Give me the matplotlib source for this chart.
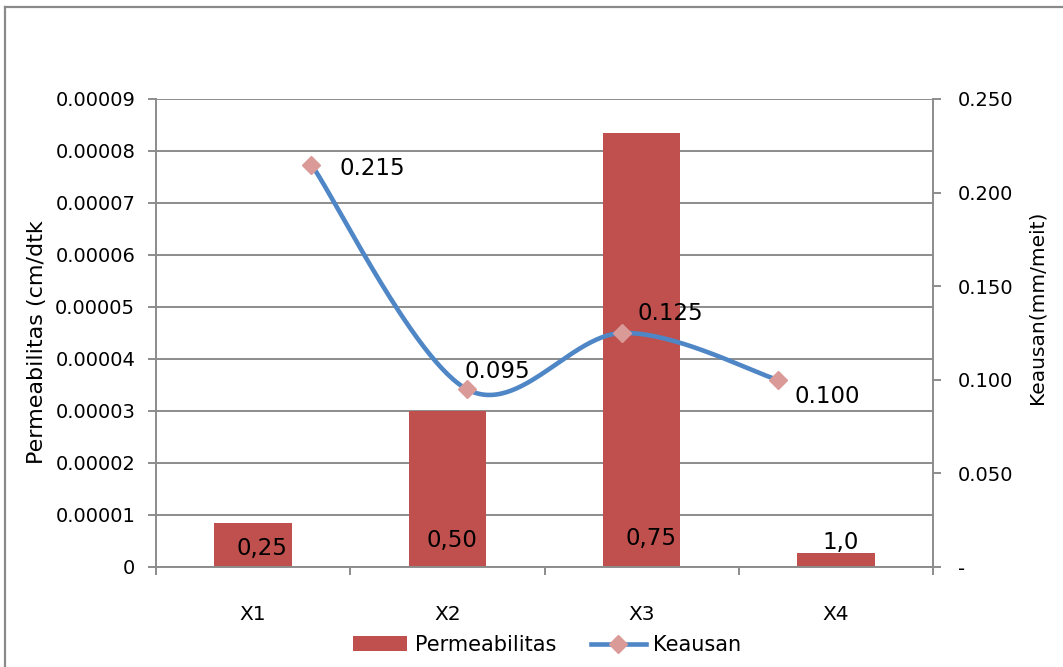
import numpy as np
import matplotlib
matplotlib.use("Agg")
import matplotlib.pyplot as plt
from matplotlib.patches import Patch
from matplotlib.lines import Line2D

plt.rcParams['font.family'] = ['DejaVu Sans']

# ---------------- data ----------------
categories = ["X1", "X2", "X3", "X4"]
permeabilitas = [0.0000085, 0.0000300, 0.0000835, 0.0000027]
bar_labels = ["0,25", "0,50", "0,75", "1,0"]
keausan = [0.215, 0.095, 0.125, 0.100]
keausan_labels = ["0.215", "0.095", "0.125", "0.100"]
left_ticks = [0, 0.00001, 0.00002, 0.00003, 0.00004, 0.00005, 0.00006, 0.00007, 0.00008, 0.00009]
left_tick_labels = ["0", "0.00001", "0.00002", "0.00003", "0.00004", "0.00005",
                    "0.00006", "0.00007", "0.00008", "0.00009"]
right_ticks = [0, 0.05, 0.10, 0.15, 0.20, 0.25]
right_tick_labels = ["-", "0.050", "0.100", "0.150", "0.200", "0.250"]

BAR_COLOR = "#C0504D"
LINE_COLOR = "#4F86C6"
MARKER_COLOR = "#D99A98"
GRID = "#8c8c8c"
SPINE = "#8c8c8c"

W, H = 1063, 667
fig = plt.figure(figsize=(W / 100, H / 100), dpi=100)
rect = [156 / W, 1 - 567 / H, (933 - 156) / W, (567 - 99) / H]

# ---------------- bar axis ----------------
ax = fig.add_axes(rect)
x = np.arange(len(categories))
bars = ax.bar(x, permeabilitas, width=0.40, color=BAR_COLOR, zorder=2)
ax.set_xlim(-0.5, len(categories) - 0.5)
ax.set_ylim(0, 0.00009)
ax.set_yticks(left_ticks)
ax.set_yticklabels(left_tick_labels, fontsize=14)
ax.yaxis.grid(True, color=GRID, lw=1.4)
ax.set_axisbelow(True)
ax.tick_params(axis='y', length=6, width=1.4, color=SPINE, pad=9)
ax.set_xticks(x)
ax.set_xticklabels(categories, fontsize=14.5)
ax.tick_params(axis='x', which='major', length=0, pad=27)
ax.set_xticks(np.arange(-0.5, len(categories)), minor=True)
ax.tick_params(axis='x', which='minor', length=6, width=1.4, color=SPINE, direction='out')
for s in ["top", "right"]:
    ax.spines[s].set_visible(False)
for s in ["left", "bottom"]:
    ax.spines[s].set_color(SPINE)
    ax.spines[s].set_linewidth(1.4)

ax.text(-0.153, 0.48, "Permeabilitas (cm/dtk", rotation=90, fontsize=16,
        transform=ax.transAxes, ha='center', va='center')

bar_offsets = [(9, 18), (5, 26), (9, 29), (5, 24)]
for i, (lab, off) in enumerate(zip(bar_labels, bar_offsets)):
    ax.annotate(lab, xy=(x[i], 0), xytext=off, textcoords='offset pixels',
                ha='center', va='center', fontsize=16.5, zorder=5)

# ---------------- line axis ----------------
ax2 = fig.add_axes(rect, facecolor='none')
lx = np.arange(1, len(keausan) + 1)
ax2.set_xlim(0, len(keausan) + 1)
ax2.set_ylim(0, 0.25)

# Excel-like smoothed curve (Catmull-Rom -> cubic Bezier)
P = np.column_stack([lx, keausan]).astype(float)
n = len(P)
curve = []
tt = np.linspace(0, 1, 60)
for i in range(n - 1):
    p0 = P[max(i - 1, 0)]
    p1 = P[i]
    p2 = P[i + 1]
    p3 = P[min(i + 2, n - 1)]
    c1 = p1 + (p2 - p0) / 6.0
    c2 = p2 - (p3 - p1) / 6.0
    seg = ((1 - tt) ** 3)[:, None] * p1 + (3 * (1 - tt) ** 2 * tt)[:, None] * c1 \
        + (3 * (1 - tt) * tt ** 2)[:, None] * c2 + (tt ** 3)[:, None] * p2
    curve.append(seg)
curve = np.vstack(curve)
ax2.plot(curve[:, 0], curve[:, 1], color=LINE_COLOR, lw=3.3, solid_capstyle='round', zorder=3)
ax2.plot(lx, keausan, linestyle='none', marker='D', markersize=9,
         color=MARKER_COLOR, zorder=4)

line_offsets = [(61, -4), (31, 18), (48, 20), (50, -17)]
for i, (lab, off) in enumerate(zip(keausan_labels, line_offsets)):
    ax2.annotate(lab, xy=(lx[i], keausan[i]), xytext=off, textcoords='offset pixels',
                 ha='center', va='center', fontsize=16.5, zorder=5)

ax2.set_xticks([])
ax2.yaxis.tick_right()
ax2.set_yticks(right_ticks)
ax2.set_yticklabels(right_tick_labels, fontsize=14)
ax2.tick_params(axis='y', length=6, width=1.4, color=SPINE, pad=12)
for s in ["top", "left", "bottom"]:
    ax2.spines[s].set_visible(False)
ax2.spines["right"].set_color(SPINE)
ax2.spines["right"].set_linewidth(1.4)
ax2.text(1.134, 0.555, "Keausan(mm/meit)", rotation=90, fontsize=14.5,
         transform=ax2.transAxes, ha='center', va='center')

# ---------------- legend ----------------
handles = [Patch(facecolor=BAR_COLOR, edgecolor='none'),
           Line2D([0], [0], color=LINE_COLOR, lw=3.3, marker='D', markersize=9,
                  markerfacecolor=MARKER_COLOR, markeredgecolor=MARKER_COLOR)]
fig.legend(handles, ["Permeabilitas", "Keausan"], loc='center',
           bbox_to_anchor=(547 / W, 1 - 645 / H), ncol=2, frameon=False,
           fontsize=15, handlelength=2.6, handleheight=0.75, handletextpad=0.35,
           columnspacing=1.7, borderaxespad=0, borderpad=0)

# ---------------- outer frame ----------------
fig.add_artist(Line2D([5 / W, 5 / W], [0, 1 - 7 / H], transform=fig.transFigure,
                      color="#8a8a8a", lw=1.6))
fig.add_artist(Line2D([5 / W, 1], [1 - 7 / H, 1 - 7 / H], transform=fig.transFigure,
                      color="#8a8a8a", lw=1.6))

fig.savefig("out.png", dpi=100)
